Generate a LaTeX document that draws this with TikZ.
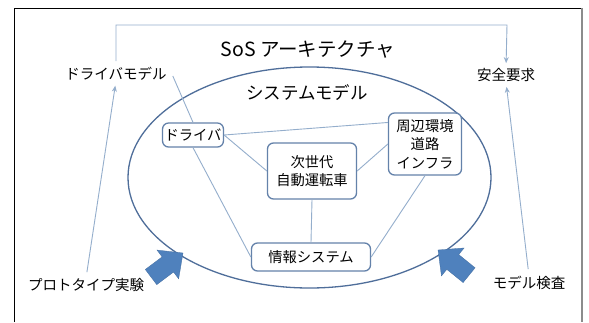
\documentclass[tikz,border=0pt]{standalone}
\usepackage{fontspec}
\setmainfont{Noto Sans CJK JP}
\usetikzlibrary{calc,arrows.meta}
\definecolor{conncol}{HTML}{94AECC}
\definecolor{ellcol}{HTML}{4F6E9A}
\definecolor{boxcol}{HTML}{6482AA}
\definecolor{blkcol}{HTML}{4F81BD}
\begin{document}
\begin{tikzpicture}[x=1pt,y=-1pt,
  box/.style={draw=boxcol, line width=1.3pt, rounded corners=6pt, fill=white, inner sep=2pt, align=center, font=\fontsize{14.3}{18.5}\selectfont},
  lbl/.style={inner sep=0pt, font=\fontsize{14.5}{17}\selectfont},
  connline/.style={draw=conncol, line width=0.9pt},
  arrline/.style={connline, -{Stealth[length=6pt,width=5pt]}},
  blockarrow/.style={fill=blkcol, draw=blkcol!85!black, line width=0.3pt}
]
\useasboundingbox (0,0) rectangle (589,322);
\fill[white] (0,0) rectangle (589,322);
\draw[black, line width=0.9pt] (14,322) -- (14,8) -- (582,8);
\draw[black!45, line width=2pt] (582,8) -- (582,322);

\draw[ellcol, line width=1.3pt] (309.5,177.5) ellipse [x radius=181.5, y radius=110.5];

\node[lbl, font=\fontsize{19.5}{22}\selectfont] (title) at (308,50) {SoS アーキテクチャ};
\node[lbl, font=\fontsize{17.5}{20}\selectfont] (sysm) at (307,93) {システムモデル};
\node[lbl] (dm) at (116,74) {ドライバモデル};
\node[lbl] (req) at (506,75) {安全要求};
\node[lbl] (proto) at (86,285) {プロトタイプ実験};
\node[lbl] (check) at (529,283) {モデル検査};

\node[box, minimum width=59pt, minimum height=24pt] (drv) at (193,135) {ドライバ};
\node[box, minimum width=73pt, minimum height=62pt] (env) at (425,144) {周辺環境\\道路\\インフラ};
\node[box, minimum width=89pt, minimum height=56pt] (car) at (312,171) {次世代\\自動運転車};
\node[box, minimum width=119pt, minimum height=28pt] (info) at (311,257) {情報システム};

\coordinate (dmx) at ($(dm.east)+(6,2)$);
\coordinate (envw) at ($(env.north west)!0.16!(env.south west)$);
\coordinate (topr) at (507,25);

\draw[arrline, shorten <=6pt, shorten >=5pt] (dm.north) |- (topr) -- (req.north);
\draw[arrline, shorten <=6pt, shorten >=5pt] (proto.north) -- (dm.south);
\draw[arrline, shorten <=7pt, shorten >=5pt] (check.north) -- (req.south);

\draw[connline] (dmx) -- (drv.north);
\draw[connline] (drv.south) -- (info.west);
\draw[connline] (drv.east) -- (envw);
\draw[connline] (drv.east) -- (car.west);
\draw[connline] (car.east) -- (env.west);
\draw[connline] (car.south) -- (info.north);
\draw[connline] (env.south) -- (info.east);

\begin{scope}[shift={(183,253)}, rotate=37]
  \path[blockarrow] (0,0) -- (-19,-18) -- (-19,-9.5) -- (-40,-9.5) -- (-40,9.5) -- (-19,9.5) -- (-19,18) -- cycle;
\end{scope}
\begin{scope}[shift={(438,250)}, rotate=141]
  \path[blockarrow] (0,0) -- (-19,-18) -- (-19,-9.5) -- (-40,-9.5) -- (-40,9.5) -- (-19,9.5) -- (-19,18) -- cycle;
\end{scope}
\end{tikzpicture}
\end{document}
